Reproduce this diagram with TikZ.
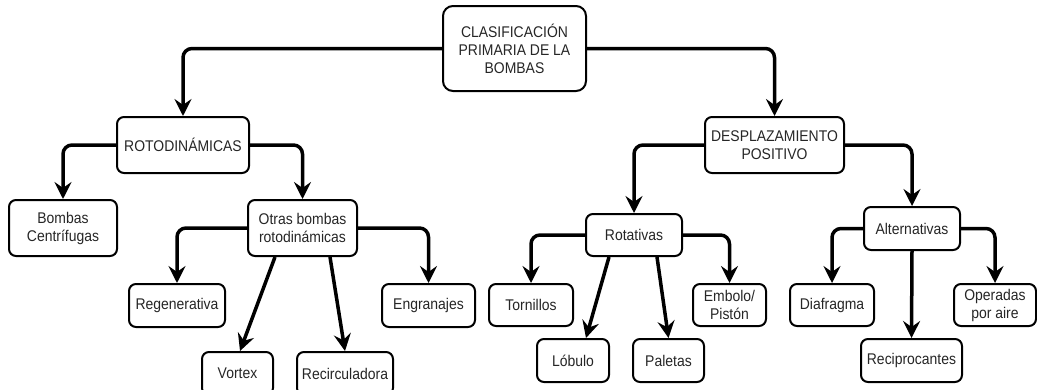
\documentclass[tikz,border=0pt]{standalone}
\usepackage{fontspec}
\setmainfont{Liberation Sans}[FakeStretch=0.9]
\usetikzlibrary{arrows.meta}
\begin{document}
\begin{tikzpicture}[x=1pt,y=-1pt,
  box/.style={draw=black, line width=2pt, rounded corners=7pt, fill=white,
    inner sep=0pt, align=center, text=black!85,
    font=\fontsize{15.5}{18}\selectfont},
  conn/.style={draw=black, line width=3.5pt, rounded corners=9pt,
    -{Stealth[length=17pt,width=17pt,inset=6pt]}},
  line/.style={draw=black, line width=3.5pt,
    -{Stealth[length=17pt,width=17pt,inset=6pt]}}]
\useasboundingbox (0,0) rectangle (1037,389);
% nodes
\node[box, minimum width=143pt, minimum height=85pt, rounded corners=10pt] (top) at (514.5,48.5) {CLASIFICACIÓN\\PRIMARIA DE LA\\BOMBAS};
\node[box, minimum width=132pt, minimum height=56pt] (roto) at (183,145) {ROTODINÁMICAS};
\node[box, minimum width=139pt, minimum height=56pt] (desp) at (774.5,145) {DESPLAZAMIENTO\\POSITIVO};
\node[box, minimum width=108pt, minimum height=56pt] (bc) at (63,228) {Bombas\\Centrífugas};
\node[box, minimum width=109pt, minimum height=56pt] (otras) at (302.5,228) {Otras bombas\\rotodinámicas};
\node[box, minimum width=96pt, minimum height=43pt] (regen) at (177,305.5) {Regenerativa};
\node[box, minimum width=93pt, minimum height=43pt] (engr) at (428.5,305.5) {Engranajes};
\node[box, minimum width=71pt, minimum height=43pt] (vortex) at (237.5,373.5) {Vortex};
\node[box, minimum width=96pt, minimum height=43pt] (recirc) at (345,373.5) {Recirculadora};
\node[box, minimum width=96pt, minimum height=42pt] (rot) at (634,235) {Rotativas};
\node[box, minimum width=84pt, minimum height=42pt] (torn) at (531,305) {Tornillos};
\node[box, minimum width=73pt, minimum height=42pt] (emb) at (729.5,305) {Embolo/\\Pistón};
\node[box, minimum width=72pt, minimum height=43pt] (lob) at (573,360.5) {Lóbulo};
\node[box, minimum width=71pt, minimum height=43pt] (pal) at (668.5,360.5) {Paletas};
\node[box, minimum width=96pt, minimum height=43pt] (alt) at (912,228.5) {Alternativas};
\node[box, minimum width=84pt, minimum height=42pt] (diaf) at (832,305) {Diafragma};
\node[box, minimum width=82pt, minimum height=42pt] (oper) at (995,305) {Operadas\\por aire};
\node[box, minimum width=101pt, minimum height=43pt] (recip) at (911.5,360.5) {Reciprocantes};
% connectors
\draw[conn] (top.west) -| (roto.north);
\draw[conn] (top.east) -| (desp.north);
\draw[conn] (roto.west) -| (bc.north);
\draw[conn] (roto.east) -| (otras.north);
\draw[conn] (otras.west) -| (regen.north);
\draw[conn] (otras.east) -| (engr.north);
\draw[line] ([xshift=-27.5pt]otras.south) -- ([xshift=2.5pt]vortex.north);
\draw[line] ([xshift=27.5pt]otras.south) -- (recirc.north);
\draw[conn] (desp.west) -| (rot.north);
\draw[conn] (desp.east) -| (alt.north);
\draw[conn] (rot.west) -| (torn.north);
\draw[conn] (rot.east) -| (emb.north);
\draw[line] ([xshift=-25pt]rot.south) -- ([xshift=13pt]lob.north);
\draw[line] ([xshift=23pt]rot.south) -- (pal.north);
\draw[conn] (alt.west) -| (diaf.north);
\draw[conn] (alt.east) -| (oper.north);
\draw[line] (alt.south) -- (recip.north);
\end{tikzpicture}
\end{document}
